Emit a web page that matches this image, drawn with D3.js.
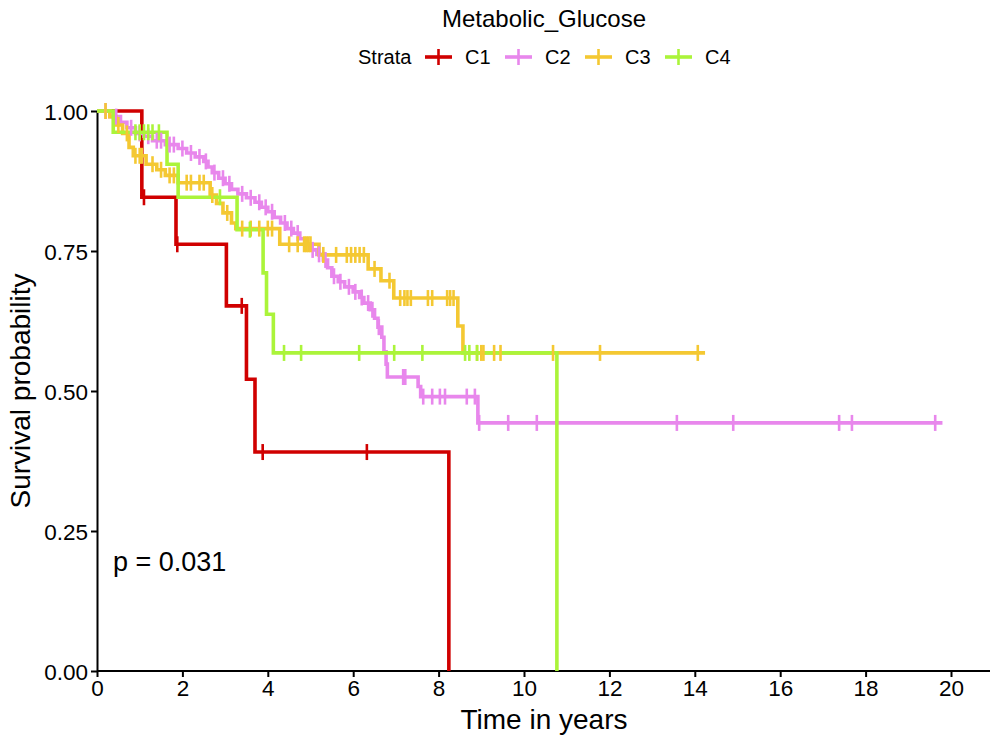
<!DOCTYPE html>
<html><head><meta charset="utf-8">
<script src="https://cdn.jsdelivr.net/npm/d3@7"></script>
<style>body{margin:0;background:#fff}text{font-family:"Liberation Sans",Arial,Helvetica,sans-serif}</style>
</head><body><svg id="c" width="999" height="746"></svg>
<script>
const strata = ["C1","C2","C3","C4"];
const colors = ["#D00000","#E887EC","#F4C832","#ABF43A"];
const xTicks = [0,2,4,6,8,10,12,14,16,18,20];
const yTicks = [0,0.25,0.5,0.75,1];
const titleText = "Metabolic_Glucose";
const pText = "p = 0.031";

// C1
const c1Times = [1.05,1.85,3.03,3.5,3.7,8.24];
const c1Surv  = [0.846,0.762,0.652,0.521,0.391,0];
const c1Cens  = [1.1,1.88,3.39,3.88,6.32];
// C2
const c2Times = [0.3,0.55,0.7,0.9,1.1,1.3,1.6,1.9,2.1,2.3,2.5,2.6,2.7,2.85,3.0,3.15,3.3,3.5,3.7,3.85,4.0,4.15,4.3,4.45,4.6,4.75,4.9,5.0,5.15,5.3,5.4,5.5,5.65,5.8,6.0,6.15,6.25,6.4,6.5,6.58,6.67,6.72,6.77,6.8,7.52,7.58,8.92];
const c2Surv  = [0.99,0.98,0.97,0.96,0.955,0.947,0.94,0.933,0.925,0.918,0.91,0.9,0.89,0.88,0.87,0.86,0.852,0.845,0.837,0.828,0.82,0.81,0.8,0.79,0.782,0.772,0.762,0.752,0.744,0.734,0.72,0.705,0.695,0.686,0.677,0.667,0.657,0.645,0.63,0.614,0.596,0.57,0.548,0.525,0.508,0.49,0.443];
const c2Cens  = [0.2,0.45,0.8,1.0,1.2,1.4,1.5,1.7,1.8,2.0,2.2,2.4,2.55,2.75,2.95,3.1,3.4,3.6,3.8,3.95,4.1,4.4,4.55,4.7,5.05,5.2,5.35,5.55,5.7,5.9,6.05,6.2,6.35,6.45,6.6,7.17,7.22,7.64,7.85,8.03,8.15,8.66,8.85,8.95,9.63,10.3,13.58,14.9,17.38,17.68,19.63];
// C3
const c3Times = [0.3,0.45,0.6,0.75,0.85,1.15,1.4,1.6,1.9,2.65,2.8,2.95,3.15,3.25,4.28,5.2,6.35,6.65,6.95,8.45,8.57];
const c3Surv  = [0.99,0.975,0.96,0.935,0.92,0.905,0.895,0.885,0.872,0.85,0.835,0.818,0.8,0.79,0.762,0.743,0.718,0.697,0.666,0.616,0.568];
const c3Cens  = [0.2,0.5,0.7,0.9,1.0,1.05,1.3,1.5,1.7,1.8,2.1,2.2,2.4,2.5,2.7,3.05,3.4,3.6,3.8,4.0,4.1,4.5,4.7,4.85,4.9,4.95,5.0,5.3,5.6,5.85,5.95,6.05,6.15,6.25,6.5,6.85,7.1,7.2,7.27,7.35,7.75,7.85,8.2,8.27,8.35,8.9,9.0,9.05,9.3,9.45,10.68,11.78,14.07];
// C4
const c4Times = [0.38,1.64,1.9,3.28,3.89,3.97,4.13,10.77];
const c4Surv  = [0.962,0.905,0.846,0.788,0.711,0.637,0.568,0];
const c4Cens  = [0.9,1.0,1.1,1.2,1.3,1.45,2.88,3.58,4.38,4.78,6.14,6.96,7.62,8.62,8.72,8.9];

const endTimes = [8.24,19.8,14.24,10.77];
const allTimes = [c1Times,c2Times,c3Times,c4Times];
const allSurv = [c1Surv,c2Surv,c3Surv,c4Surv];
const allCens = [c1Cens,c2Cens,c3Cens,c4Cens];

const svg = d3.select("#c");
const x = d3.scaleLinear().domain([0,20]).range([97,951]);
const y = d3.scaleLinear().domain([0,1]).range([671,111]);
const axisRight = 990;

// axes
const xa = svg.append("g").attr("transform","translate(0,671)")
  .call(d3.axisBottom(x).tickValues(xTicks).tickSize(6).tickSizeOuter(0).tickFormat(d3.format("d")));
xa.select(".domain").attr("d",`M97,0H${axisRight}`);
const ya = svg.append("g").attr("transform","translate(97,0)")
  .call(d3.axisLeft(y).tickValues(yTicks).tickSize(6).tickSizeOuter(0).tickFormat(d3.format(".2f")));
[xa,ya].forEach(a=>{
  a.select(".domain").attr("stroke","#000").attr("stroke-width",2);
  a.selectAll(".tick line").attr("stroke","#000").attr("stroke-width",2);
  a.selectAll(".tick text").attr("fill","#000").style("font-size","22.5px")
   .style("font-family",'"Liberation Sans",Arial,sans-serif');
});
xa.selectAll(".tick text").attr("dy","0.9em").attr("y",5);
ya.selectAll(".tick text").attr("x",-9).attr("dy","0.36em");

const line = d3.line().x(d=>x(d[0])).y(d=>y(d[1])).curve(d3.curveStepAfter);
const g = svg.append("g");
strata.forEach((s,i)=>{
  const pts=[[0,1]];
  allTimes[i].forEach((t,j)=>pts.push([t,allSurv[i][j]]));
  pts.push([endTimes[i], allSurv[i][allSurv[i].length-1]]);
  g.append("path").attr("d",line(pts)).attr("fill","none")
   .attr("stroke",colors[i]).attr("stroke-width",3.6).attr("stroke-linejoin","miter");
});
const bis = d3.bisector(d=>d).right;
strata.forEach((s,i)=>{
  allCens[i].forEach(t=>{
    const k = bis(allTimes[i],t);
    const sv = k===0?1:allSurv[i][k-1];
    g.append("line").attr("x1",x(t)).attr("x2",x(t)).attr("y1",y(sv)-8).attr("y2",y(sv)+8)
     .attr("stroke",colors[i]).attr("stroke-width",2.6);
  });
});

// title & labels
svg.append("text").attr("x",544).attr("y",27).attr("text-anchor","middle")
  .style("font-size","24px").text(titleText);
svg.append("text").attr("x",544).attr("y",729).attr("text-anchor","middle")
  .style("font-size","28px").text("Time in years");
svg.append("text").attr("transform","translate(30,391) rotate(-90)").attr("text-anchor","middle")
  .style("font-size","28px").text("Survival probability");
svg.append("text").attr("x",113).attr("y",571).style("font-size","27px").text(pText);

// legend
const lg = svg.append("g");
lg.append("text").attr("x",358).attr("y",64).style("font-size","20px").text("Strata");
const keyX = [425,505,585,665];
strata.forEach((s,i)=>{
  const k = keyX[i];
  lg.append("line").attr("x1",k).attr("x2",k+27).attr("y1",57).attr("y2",57).attr("stroke",colors[i]).attr("stroke-width",3.6);
  lg.append("line").attr("x1",k+13.5).attr("x2",k+13.5).attr("y1",49).attr("y2",65).attr("stroke",colors[i]).attr("stroke-width",2.6);
  lg.append("text").attr("x",k+40).attr("y",64).style("font-size","20px").text(s);
});
</script></body></html>
